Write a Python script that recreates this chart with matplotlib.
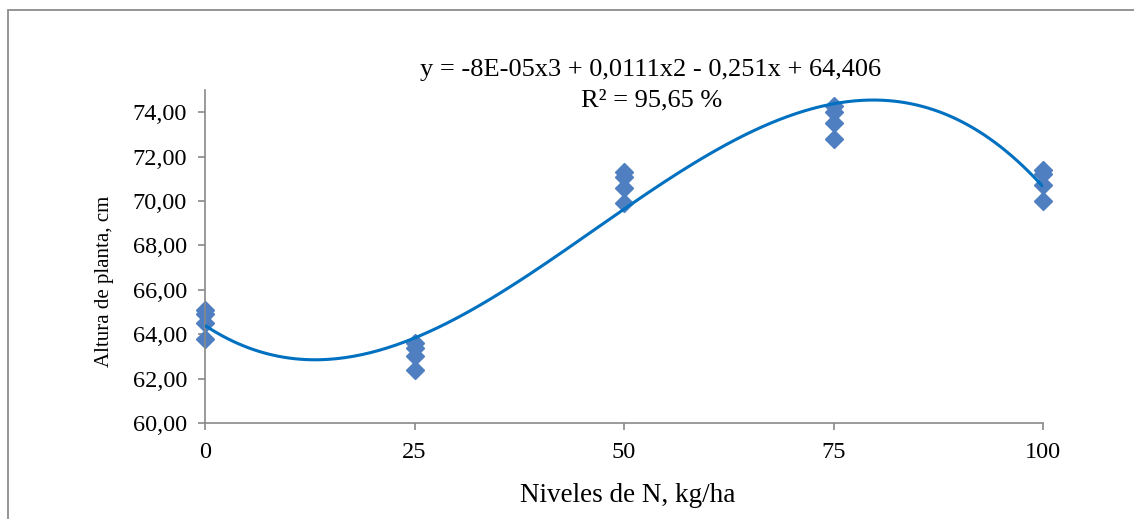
import numpy as np
import matplotlib
matplotlib.use("Agg")
import matplotlib.pyplot as plt
from matplotlib.patches import Rectangle

# Nitrogen levels (kg/ha) and plant height of each replicate (cm)
niveles = [0, 25, 50, 75, 100]
altura = {
    0:   [65.1, 64.9, 64.5, 63.8],
    25:  [63.6, 63.4, 63.0, 62.4],
    50:  [71.3, 71.1, 70.6, 69.9],
    75:  [74.3, 74.0, 73.5, 72.8],
    100: [71.4, 71.2, 70.7, 70.0],
}
y_ticks = [60, 62, 64, 66, 68, 70, 72, 74]
x_ticks = [0, 25, 50, 75, 100]
ecuacion = "y = -8E-05x3 + 0,0111x2 - 0,251x + 64,406"
r2_texto = "R² = 95,65 %"

x_obs = np.repeat(niveles, 4)
y_obs = np.concatenate([altura[n] for n in niveles])

# Third-order polynomial trend line
coef = np.polyfit(x_obs, y_obs, 3)
x_fit = np.linspace(0, 100, 300)
y_fit = np.polyval(coef, x_fit)

plt.rcParams["font.family"] = ["Liberation Serif", "DejaVu Serif"]

W, H = 1134, 519
fig = plt.figure(figsize=(W / 100, H / 100), dpi=100)
ax = fig.add_axes([205 / W, (H - 423) / H, (1043 - 205) / W, (423 - 90) / H])

gris = "#898989"
ax.plot(x_obs, y_obs, linestyle="none", marker="D", markersize=9.2,
        color="#4F7FC0", markeredgecolor="#4F7FC0", zorder=2, clip_on=False)
ax.plot(x_fit, y_fit, color="#0070C0", linewidth=2.2, zorder=3,
        solid_capstyle="butt")

ax.set_xlim(0, 100)
ax.set_ylim(60, 75)
ax.set_xticks(x_ticks)
ax.set_xticklabels([str(v) for v in x_ticks])
ax.set_yticks(y_ticks)
ax.set_yticklabels([f"{v:.2f}".replace(".", ",") for v in y_ticks])

for side in ("top", "right"):
    ax.spines[side].set_visible(False)
for side in ("left", "bottom"):
    ax.spines[side].set_color(gris)
    ax.spines[side].set_linewidth(1.2)
ax.tick_params(axis="both", direction="out", length=5, width=1.2,
               color=gris, labelsize=17.5, labelcolor="black")
ax.tick_params(axis="y", pad=8)
ax.tick_params(axis="x", pad=9)

ax.set_xlabel("Niveles de N, kg/ha", fontsize=19.5)
ax.set_ylabel("Altura de planta, cm", fontsize=15)
ax.xaxis.set_label_coords(628 / W, (H - 483) / H, transform=fig.transFigure)
ax.yaxis.set_label_coords(114 / W, (H - 281) / H, transform=fig.transFigure)

fig.text(651 / W, (H - 70) / H, ecuacion, ha="center", va="center", fontsize=19)
fig.text(652 / W, (H - 100) / H, r2_texto, ha="center", va="center", fontsize=19)

# Chart area border
fig.patches.append(Rectangle((8 / W, -0.5), 2.0, (H - 10) / H + 0.5,
                             transform=fig.transFigure, fill=False,
                             edgecolor="#8C8C8C", linewidth=1.3))

fig.savefig("out.png", dpi=100)
